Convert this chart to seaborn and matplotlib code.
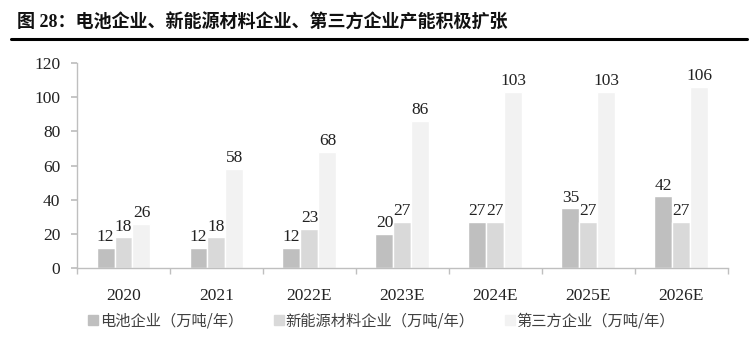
import matplotlib
matplotlib.use("Agg")
import matplotlib.pyplot as plt
import seaborn as sns
import pandas as pd
from matplotlib.lines import Line2D

years = ["2020", "2021", "2022E", "2023E", "2024E", "2025E", "2026E"]
battery = [12, 12, 12, 20, 27, 35, 42]
material = [18, 18, 23, 27, 27, 27, 27]
third = [26, 58, 68, 86, 103, 103, 106]
series = ["电池企业（万吨/年）", "新能源材料企业（万吨/年）", "第三方企业（万吨/年）"]
colors = ["#bfbfbf", "#d9d9d9", "#f2f2f2"]
title = "图 28：电池企业、新能源材料企业、第三方企业产能积极扩张"

sns.set_theme(style="white")
plt.rcParams['font.family'] = ['Liberation Serif', 'Noto Sans CJK SC', 'DejaVu Sans']

df = pd.DataFrame({
    "year": years * 3,
    "value": battery + material + third,
    "series": [series[0]] * 7 + [series[1]] * 7 + [series[2]] * 7,
})

fig = plt.figure(figsize=(7.55, 3.45), dpi=100)
ax = fig.add_axes([0.102, 0.223, 0.862, 0.594])
sns.barplot(data=df, x="year", y="value", hue="series", palette=colors,
            width=0.58, gap=0, ax=ax, legend=False)

ax.set_ylim(0, 120)
ax.set_xlim(-0.5, 6.5)
ax.set_yticks(range(0, 121, 20))
ax.set_xlabel("")
ax.set_ylabel("")
for c in ax.containers:
    ax.bar_label(c, fmt="%d", padding=2, fontsize=12.5, color="#222222",
                 family="Liberation Serif")

for s in ["top", "right"]:
    ax.spines[s].set_visible(False)
for s in ["left", "bottom"]:
    ax.spines[s].set_color("#bfbfbf")
    ax.spines[s].set_linewidth(1)
ax.tick_params(axis="y", labelsize=12.5, left=True, length=4, color="#bfbfbf",
               labelcolor="#222222", pad=8)
ax.tick_params(axis="x", labelsize=12.5, bottom=False, labelcolor="#222222", pad=8)
ax.set_xticks([i - 0.5 for i in range(8)], minor=True)
ax.tick_params(axis="x", which="minor", bottom=True, length=4, color="#bfbfbf")
for lab in ax.get_xticklabels() + ax.get_yticklabels():
    lab.set_family("Liberation Serif")

# title
fig.text(0.022, 0.935, title, fontsize=13, fontweight="bold",
         family=["Liberation Serif", "Noto Sans CJK SC"], color="#111111", va="center")
fig.add_artist(Line2D([0.014, 0.99], [0.887, 0.887], color="black", lw=2.2,
                      transform=fig.transFigure))

# legend
handles = [plt.Rectangle((0, 0), 1, 1, color=c) for c in colors]
leg = fig.legend(handles, series, loc="center left", bbox_to_anchor=(0.1166, 0.07),
                 ncol=3, frameon=False, handlelength=0.65, handleheight=0.65,
                 handletextpad=0.12, columnspacing=2.0, borderpad=0, borderaxespad=0,
                 prop={"family": "Noto Sans CJK SC", "size": 11})
for t in leg.get_texts():
    t.set_color("#404040")

fig.savefig("out.png", dpi=100)
